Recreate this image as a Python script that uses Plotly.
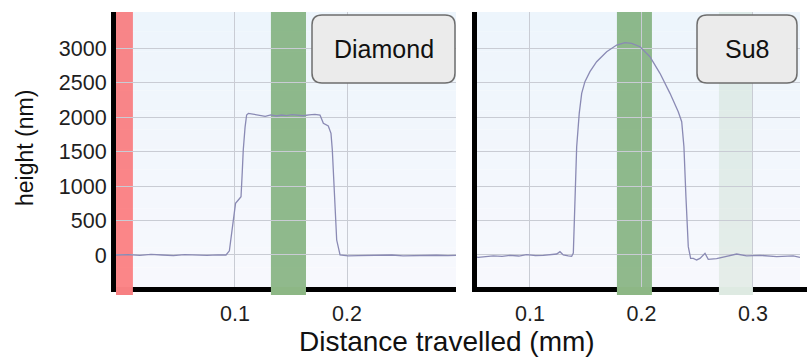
import plotly.graph_objects as go

# ---------------- data ----------------
diamond_x = [-0.0062, 0.005, 0.015, 0.025, 0.035, 0.045, 0.055, 0.065, 0.075, 0.085,
             0.092, 0.095, 0.097, 0.0995, 0.1005, 0.103, 0.1054, 0.1065, 0.1074, 0.109,
             0.1104, 0.112, 0.118, 0.122, 0.127, 0.132, 0.137, 0.1417, 0.146, 0.151,
             0.1565, 0.161, 0.166, 0.1714, 0.1759, 0.1789, 0.1833, 0.1857, 0.1869, 0.1887,
             0.1908, 0.1938, 0.201, 0.21, 0.22, 0.23, 0.24, 0.25, 0.26, 0.27, 0.28, 0.29, 0.2973]
diamond_h = [0, 5, -5, 8, 0, -8, 5, 0, -5, 3,
             0, 60, 314, 700, 749, 797, 845, 1200, 1522, 1850,
             2029, 2053, 2039, 2025, 2010, 2030, 2015, 2029, 2020, 2035,
             2029, 2018, 2032, 2039, 2029, 1908, 1870, 1763, 1522, 797,
             217, 0, -14, -10, -5, -8, 0, -12, -6, -10, -4, -8, -5]

su8_x = [0.0525, 0.0536, 0.0671, 0.075, 0.082, 0.09, 0.097, 0.105, 0.112, 0.118,
         0.124, 0.1269, 0.1299, 0.1344, 0.1374, 0.1389, 0.1404, 0.1419, 0.1442, 0.1464,
         0.1493, 0.1538, 0.1598, 0.1688, 0.1778, 0.1852, 0.1912, 0.1987, 0.2076, 0.2166,
         0.2256, 0.2330, 0.2361, 0.2381, 0.2399, 0.2420, 0.2441, 0.2465, 0.2495, 0.2525,
         0.2570, 0.2599, 0.2674, 0.2764, 0.2854, 0.2943, 0.3063, 0.3213, 0.3361, 0.3422]
su8_h = [-30, -34, -14, -20, -5, -15, 5, -10, -5, 0,
         14, 48, 0, -14, -20, 29, 845, 1570, 2053, 2343,
         2512, 2657, 2802, 2947, 3043, 3077, 3068, 3019, 2874, 2633,
         2343, 2077, 1932, 1570, 845, 121, -48, -48, -72, -50,
         24, -63, -53, -14, 14, -14, -5, -24, -14, -34]

x_ticks_left = [0.1, 0.2]
x_ticks_right = [0.1, 0.2, 0.3]
y_ticks = [0, 500, 1000, 1500, 2000, 2500, 3000]
panel_labels = ["Diamond", "Su8"]
red_band = [-0.0065, 0.0089]
green_band_left = [0.1321, 0.1634]
green_band_right = [0.178, 0.2094]
light_band_right = [0.2695, 0.300]

x_title = "Distance travelled (mm)"
y_title = "height (nm)"

# ---------------- layout geometry ----------------
W, H = 807, 360
ML, MR, MT, MB = 116, 7, 12, 73
PW, PH = W - ML - MR, H - MT - MB


def pxx(px):
    return (px - ML) / PW


def pxy(py):
    return (H - MB - py) / PH


FONT = "Liberation Sans, Arial, sans-serif"
LINE_COLOR = "#8a8ab4"
GRID = "#c9ccd4"

fig = go.Figure()
fig.add_trace(go.Scatter(x=diamond_x, y=diamond_h, mode="lines",
                         line=dict(color=LINE_COLOR, width=1.3),
                         xaxis="x", yaxis="y", showlegend=False))
fig.add_trace(go.Scatter(x=su8_x, y=su8_h, mode="lines",
                         line=dict(color=LINE_COLOR, width=1.3),
                         xaxis="x2", yaxis="y2", showlegend=False))

shapes = []
# gradient background strips for each panel
top_c = (237, 245, 252)
bot_c = (247, 248, 253)
N = 14
for dom in ["x domain", "x2 domain"]:
    for i in range(N):
        t = i / (N - 1)
        c = tuple(round(top_c[k] + (bot_c[k] - top_c[k]) * t) for k in range(3))
        shapes.append(dict(type="rect", xref=dom, yref="paper",
                           x0=0, x1=1, y0=1 - (i + 1) / N, y1=1 - i / N,
                           fillcolor="rgb(%d,%d,%d)" % c, line=dict(width=0),
                           layer="below"))

band_bottom = pxy(295)
bands = [
    ("x", red_band, "rgba(255,40,40,0.55)", "rgb(247,128,130)"),
    ("x", green_band_left, "rgba(95,155,85,0.68)", "rgb(141,183,133)"),
    ("x2", green_band_right, "rgba(95,155,85,0.68)", "rgb(141,183,133)"),
    ("x2", light_band_right, "rgba(120,170,110,0.14)", "rgb(222,234,226)"),
]
for xr, (a, b), col, solid in bands:
    shapes.append(dict(type="rect", xref=xr, yref="paper", x0=a, x1=b,
                       y0=0, y1=1, fillcolor=col, line=dict(width=0), layer="below"))
    shapes.append(dict(type="rect", xref=xr, yref="paper", x0=a, x1=b,
                       y0=band_bottom, y1=0, fillcolor=solid, line=dict(width=0),
                       layer="above"))

# extension of right bottom axis line to the edge
shapes.append(dict(type="rect", xref="paper", yref="paper", x0=1, x1=pxx(807),
                   y0=pxy(292), y1=0, fillcolor="black", line=dict(width=0)))


def rounded_box(x0p, y0p, x1p, y1p, r=10):
    X0, X1 = pxx(x0p), pxx(x1p)
    Y0, Y1 = pxy(y1p), pxy(y0p)  # bottom, top in paper
    rx, ry = r / PW, r / PH
    return (f"M {X0+rx},{Y1} L {X1-rx},{Y1} Q {X1},{Y1} {X1},{Y1-ry} "
            f"L {X1},{Y0+ry} Q {X1},{Y0} {X1-rx},{Y0} L {X0+rx},{Y0} "
            f"Q {X0},{Y0} {X0},{Y0+ry} L {X0},{Y1-ry} Q {X0},{Y1} {X0+rx},{Y1} Z")


boxes = [(312, 15, 455, 83), (697, 15, 797, 83)]
annotations = []
for (bx0, by0, bx1, by1), lab in zip(boxes, panel_labels):
    shapes.append(dict(type="path", xref="paper", yref="paper",
                       path=rounded_box(bx0, by0, bx1, by1),
                       fillcolor="#ebebeb", line=dict(color="#6e6e6e", width=1.5),
                       layer="above"))
    annotations.append(dict(text=lab, xref="paper", yref="paper",
                            x=pxx((bx0 + bx1) / 2), y=pxy((by0 + by1) / 2),
                            xanchor="center", yanchor="middle", showarrow=False,
                            font=dict(family=FONT, size=25, color="#111111")))

annotations.append(dict(text=x_title, xref="paper", yref="paper",
                        x=pxx(447), y=pxy(341), xanchor="center", yanchor="middle",
                        showarrow=False, font=dict(family=FONT, size=28, color="#111111")))
annotations.append(dict(text=y_title, xref="paper", yref="paper",
                        x=pxx(25), y=pxy(148), xanchor="center", yanchor="middle",
                        textangle=-90, showarrow=False,
                        font=dict(family=FONT, size=23, color="#111111")))

axis_common = dict(showgrid=True, gridcolor=GRID, gridwidth=1, zeroline=False,
                   showline=True, linecolor="black", linewidth=5, ticks="",
                   tickfont=dict(family=FONT, size=21.5, color="#1e1e1e"))

fig.update_layout(
    width=W, height=H,
    margin=dict(l=ML, r=MR, t=MT, b=MB),
    paper_bgcolor="white",
    plot_bgcolor="rgba(0,0,0,0)",
    showlegend=False,
    xaxis=dict(domain=[0, pxx(456)], range=[-0.0062, 0.2973], anchor="y",
               tickvals=x_ticks_left, ticktext=[str(v) for v in x_ticks_left],
               ticklabelstandoff=3, **axis_common),
    xaxis2=dict(domain=[pxx(477), 1], range=[0.0525, 0.3422], anchor="y2",
                tickvals=x_ticks_right, ticktext=[str(v) for v in x_ticks_right],
                ticklabelstandoff=3, **axis_common),
    yaxis=dict(domain=[0, 1], range=[-464, 3522], anchor="x", tickvals=y_ticks,
               **axis_common),
    yaxis2=dict(domain=[0, 1], range=[-464, 3522], anchor="x2", tickvals=y_ticks,
                showticklabels=False,
                **{k: v for k, v in axis_common.items() if k != "tickfont"}),
    shapes=shapes,
    annotations=annotations,
)

fig.write_html("out.html")
